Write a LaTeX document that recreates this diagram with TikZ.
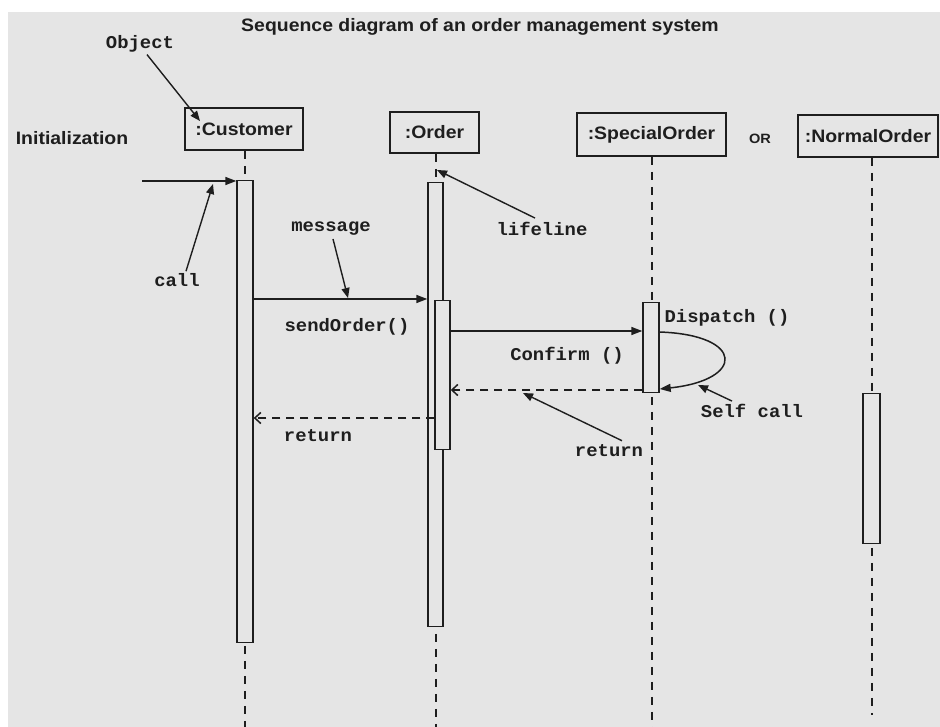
\documentclass[tikz,border=0pt]{standalone}
\usepackage{fontspec}
\usetikzlibrary{arrows.meta}
\newfontfamily\sansb{Liberation Sans}[FakeStretch=1.08]
\newfontfamily\monob{Liberation Mono}[FakeStretch=1.05]
\definecolor{bg}{RGB}{229,229,229}
\definecolor{ink}{RGB}{30,30,30}
\tikzset{
  objbox/.style={draw=ink, line width=1.8pt, fill=bg, text=ink, inner sep=0pt,
    font=\sansb\bfseries\fontsize{18}{20}\selectfont},
  actbar/.style={draw=ink, line width=1.4pt, fill=bg, inner sep=0pt, anchor=north},
  life/.style={draw=ink, line width=1.8pt, dash pattern=on 8pt off 7pt},
  msg/.style={draw=ink, line width=1.5pt, -{Triangle[length=11pt,width=8pt]}},
  ret/.style={draw=ink, line width=1.5pt, dash pattern=on 8pt off 6pt,
    -{Straight Barb[length=6pt,width=11pt]}},
  ptr/.style={draw=ink, line width=1.4pt, -{Triangle[length=10pt,width=8pt]}},
  lbl/.style={font=\monob\bfseries\fontsize{18}{20}\selectfont, text=ink, inner sep=0pt},
  slbl/.style={font=\sansb\bfseries\fontsize{18}{20}\selectfont, text=ink, inner sep=0pt},
  orlbl/.style={font=\sansb\bfseries\fontsize{13.5}{15}\selectfont, text=ink, inner sep=0pt},
}
\begin{document}
\begin{tikzpicture}[x=1pt,y=-1pt]
\fill[white] (0,0) rectangle (940,727);
\fill[bg] (8,12) rectangle (940,727);
\useasboundingbox (0,0) rectangle (940,727);

% title and side labels
\node[slbl] (title) at (480,27) {Sequence diagram of an order management system};
\node[slbl] (init) at (72,138) {Initialization};
\node[orlbl] (or) at (760,139) {OR};

% object boxes
\node[objbox, minimum width=118pt, minimum height=42pt] (cust) at (244,129) {:Customer};
\node[objbox, minimum width=89pt, minimum height=41pt] (ord) at (434.5,132.5) {:Order};
\node[objbox, minimum width=149pt, minimum height=43pt] (spec) at (651.5,134.5) {:SpecialOrder};
\node[objbox, minimum width=140pt, minimum height=42pt] (norm) at (868,136) {:NormalOrder};

% lifelines
\coordinate (cend) at (245,727);
\coordinate (oend) at (436,727);
\coordinate (send) at (652,727);
\coordinate (nend) at (872,715);
\draw[life] (cust.south -| cend) -- (cend);
\draw[life] (ord.south -| oend) -- (oend);
\draw[life] (spec.south -| send) -- (send);
\draw[life] (norm.south -| nend) -- (nend);

% activation bars
\node[actbar, minimum width=16pt, minimum height=462pt] (cbar) at (245,180) {};
\node[actbar, minimum width=15pt, minimum height=444pt] (obar) at (435.5,182) {};
\node[actbar, minimum width=15pt, minimum height=149pt] (obar2) at (442.5,300) {};
\node[actbar, minimum width=16pt, minimum height=90pt] (sbar) at (651,302) {};
\node[actbar, minimum width=17pt, minimum height=150pt] (nbar) at (871.5,393) {};

% messages
\coordinate (initstart) at (142,181);
\draw[msg] (initstart) -- (initstart -| cbar.west);
\coordinate (ysend) at (0,299);
\draw[msg] (ysend -| cbar.east) -- (ysend -| obar.west);
\coordinate (yconf) at (0,331);
\draw[msg] (yconf -| obar2.east) -- (yconf -| sbar.west);
\coordinate (yself1) at (0,332);
\coordinate (yself2) at (0,389);
\draw[msg] (yself1 -| sbar.east) .. controls (745,335) and (745,380) .. (yself2 -| sbar.east);
\coordinate (yret1) at (0,390);
\draw[ret] (yret1 -| sbar.west) -- (yret1 -| obar2.east);
\coordinate (yret2) at (0,418);
\draw[ret] (yret2 -| obar2.west) -- (yret2 -| cbar.east);

% labels
\node[lbl] (obj) at (140,44) {Object};
\node[lbl] (call) at (177,280) {call};
\node[lbl] (msgl) at (331,229) {message};
\node[lbl] (lifel) at (542,229) {lifeline};
\node[lbl] (sendl) at (347,327) {sendOrder()};
\node[lbl] (conf) at (567,356) {Confirm ()};
\node[lbl] (disp) at (727,318) {Dispatch ()};
\node[lbl] (selfc) at (752,411) {Self call};
\node[lbl] (ret1) at (318,436) {return};
\node[lbl] (ret2) at (609,451) {return};

% pointers
\coordinate (objpt) at (200,121);
\coordinate (callpt) at (213,184);
\coordinate (msgpt) at (348,298);
\coordinate (lifept) at (437,170);
\coordinate (retpt) at (523,393);
\coordinate (selfpt) at (698,385);
\draw[ptr] ([xshift=7pt,yshift=-2pt]obj.south) -- (objpt);
\draw[ptr] ([xshift=9pt,yshift=2pt]call.north) -- (callpt);
\draw[ptr] ([xshift=2pt,yshift=-3pt]msgl.south) -- (msgpt);
\draw[ptr] ([xshift=-7pt,yshift=4pt]lifel.north) -- (lifept);
\draw[ptr] ([xshift=13pt,yshift=4pt]ret2.north) -- (retpt);
\draw[ptr] ([xshift=-20pt,yshift=3pt]selfc.north) -- (selfpt);
\end{tikzpicture}
\end{document}
